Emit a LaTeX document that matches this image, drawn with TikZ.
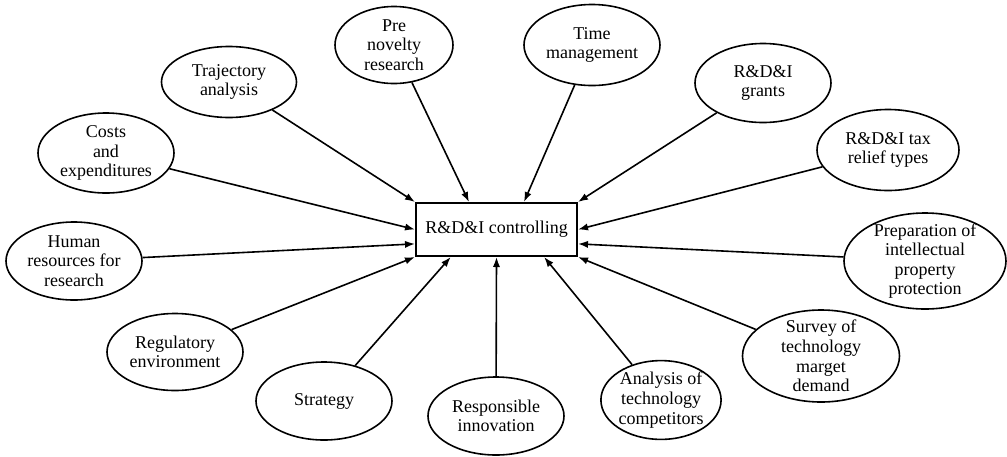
\documentclass[tikz,border=0pt]{standalone}
\usepackage{fontspec}
\setmainfont{Liberation Serif}
\usetikzlibrary{shapes.geometric}
\usetikzlibrary{positioning, arrows.meta}

\begin{document}
\begin{tikzpicture}[
		x=0.5pt, y=-0.5pt,
		ell/.style={ellipse, draw, line width=0.8pt, align=center, inner sep=0pt, minimum width=68pt, minimum height=39pt, font=\fontsize{9}{9.8}\selectfont},
		ctrlbox/.style={draw, rectangle, line width=1pt, minimum width=80.5pt, minimum height=26.5pt, font=\fontsize{9}{9.8}\selectfont},
		>={Latex[length=5pt,width=3.6pt]}
		]
		\useasboundingbox (0,0) rectangle (1007,456);
		
		\node[ctrlbox] (ctrl) at (496.5, 229.5) {R\&D\&I controlling};
		
		% top row
		\node[ell, minimum width=67.5pt, minimum height=35.5pt] (traj) at (229, 82) {Trajectory\\analysis};
		\node[ell, minimum width=59pt, minimum height=38.5pt, inner sep=-1pt] (pre) at (394, 45) {Pre\\novelty\\research};
		\node[ell, minimum height=40.5pt] (time) at (592, 45) {Time\\management};
		\node[ell, minimum height=39.5pt] (grant) at (763, 83) {R\&D\&I\\grants};
		
		% right side
		\node[ell, minimum width=71pt, minimum height=40.5pt] (tax) at (888, 150) {R\&D\&I tax\\relief types};
		\node[ell, minimum width=81pt, minimum height=48pt, inner sep=-2pt] (prep) at (925, 261) {Preparation of\\intellectual\\property\\protection};
		\node[ell, minimum width=78.5pt, minimum height=46pt, inner sep=-2pt] (survey) at (821, 356) {Survey of\\technology\\marget\\demand};
		
		% bottom row
		\node[ell, minimum width=59pt, minimum height=37.5pt] (anal) at (661, 400) {Analysis of\\technology\\competitors};
		\node[ell] (resp) at (496, 416) {Responsible\\innovation};
		\node[ell] (strat) at (324, 401) {Strategy};
		
		% left side
		\node[ell, minimum height=38.5pt] (reg) at (175, 352) {Regulatory\\environment};
		\node[ell] (human) at (74, 261) {Human\\resources for\\research};
		\node[ell, minimum height=40pt] (costs) at (106, 153) {Costs\\and\\expenditures};
		
		\foreach \from/\to in {traj/north west, pre/135, time/45, grant/north east,
			tax/east, prep/350, survey/south east, anal/330, resp/south, strat/211,
			reg/south west, human/190, costs/west}
		\draw[->, line width=0.8pt] (\from) -- (ctrl.\to);
\end{tikzpicture}
\end{document}
